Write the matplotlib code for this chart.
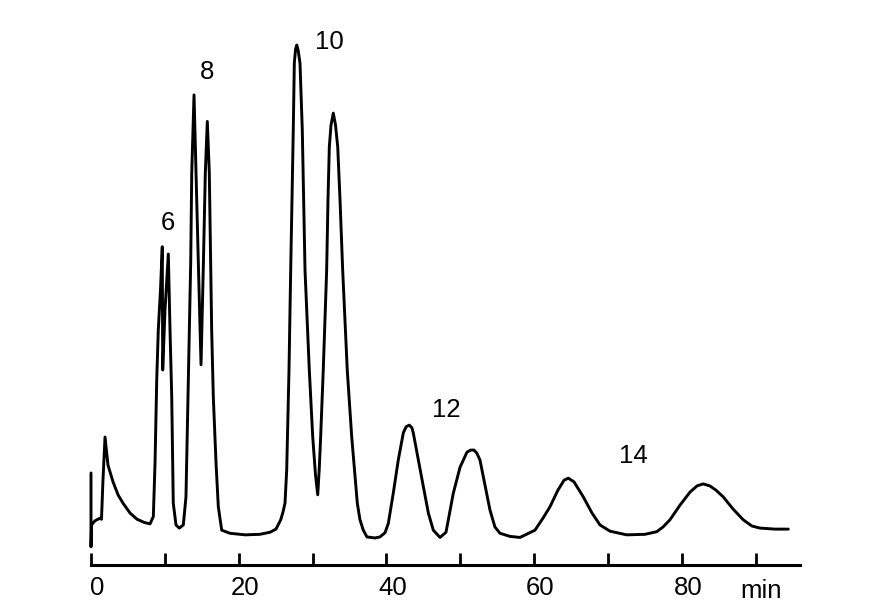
import matplotlib
matplotlib.use("Agg")
import matplotlib.pyplot as plt
from matplotlib.transforms import ScaledTranslation

# Retention time (min) and detector response (relative units)
time_min = [0.0, 0.0, 0.07, 0.54, 1.22, 1.42, 1.62, 1.90, 2.30, 2.98, 3.66, 4.33, 5.28, 6.23,
            7.18, 7.99, 8.44, 8.67, 8.90, 9.11, 9.41, 9.65, 9.71, 10.02, 10.47, 10.70, 10.93,
            11.06, 11.14, 11.51, 11.96, 12.50, 12.86, 13.04, 13.31, 13.50, 13.64, 13.95, 14.22,
            14.56, 14.90, 15.23, 15.48, 15.75, 16.02, 16.18, 16.34, 16.56, 16.93, 17.24, 17.70,
            18.82, 20.85, 22.88, 24.24, 25.05, 25.69, 26.00, 26.27, 26.50, 26.81, 27.04, 27.22,
            27.39, 27.53, 27.70, 27.86, 28.05, 28.30, 28.61, 28.80, 28.98, 29.56, 30.02, 30.40,
            30.70, 30.90, 31.10, 31.45, 31.91, 32.09, 32.27, 32.50, 32.81, 33.11, 33.41, 33.72,
            34.08, 34.70, 35.30, 36.06, 36.42, 36.87, 37.37, 38.45, 39.13, 39.81, 40.26, 40.93,
            41.61, 42.29, 42.67, 43.10, 43.45, 43.64, 44.32, 45.00, 45.68, 46.35, 47.26, 48.07,
            49.06, 49.97, 50.91, 51.40, 51.86, 52.25, 52.67, 53.35, 54.02, 54.70, 55.38, 56.74,
            58.09, 60.12, 61.20, 62.15, 63.23, 64.05, 64.63, 65.40, 66.66, 67.84, 68.92, 70.28,
            72.54, 75.00, 76.60, 77.45, 78.40, 79.75, 81.10, 82.05, 82.90, 83.81, 84.62, 85.61,
            86.92, 88.31, 89.49, 90.58, 92.61, 94.42]
response = [17.7, 3.5, 7.7, 8.5, 9.0, 8.8, 16.3, 24.6, 19.2, 16.0, 13.5, 11.9, 10.0, 8.8,
            8.2, 7.9, 9.3, 19.6, 35.6, 45.2, 52.9, 61.2, 37.5, 49.0, 59.8, 45.2, 32.4,
            19.6, 11.9, 7.7, 7.1, 7.7, 13.1, 26.0, 45.2, 58.1, 75.4, 90.4, 75.4,
            56.7, 38.5, 58.7, 75.4, 85.3, 75.4, 60.6, 45.2, 32.4, 19.6, 11.2, 6.7,
            6.1, 5.8, 5.9, 6.3, 6.9, 8.7, 10.2, 11.9, 18.3, 37.5, 56.7, 70.2,
            83.7, 96.5, 99.2, 100.0, 99.0, 96.5, 83.7, 70.2, 56.7, 37.5, 24.7, 17.3,
            13.5, 18.3, 24.7, 37.5, 56.7, 70.2, 80.4, 84.6, 86.9, 84.6, 80.4, 70.2,
            56.7, 37.5, 24.7, 11.9, 8.7, 6.7, 5.4, 5.2, 5.4, 6.2, 8.0, 13.8,
            20.2, 25.4, 26.6, 26.9, 26.4, 25.4, 20.2, 15.1, 10.0, 6.7, 5.3, 6.3,
            13.8, 18.8, 21.7, 22.1, 22.1, 21.5, 20.2, 15.4, 10.6, 7.3, 6.1, 5.5,
            5.3, 6.7, 9.0, 11.2, 14.4, 16.3, 16.7, 16.0, 13.1, 10.0, 7.7, 6.5,
            5.8, 5.9, 6.4, 7.3, 8.7, 11.5, 14.0, 15.2, 15.6, 15.2, 14.4, 13.1,
            10.8, 8.7, 7.5, 7.1, 6.9, 6.9]

# Peak labels (carbon number) and their positions
peak_labels = ["6", "8", "10", "12", "14"]
peak_label_t = [10.47, 15.75, 32.3, 48.1, 73.5]
peak_label_s = [65.7, 94.9, 100.5, 29.8, 21.0]

tick_values = [0, 10, 20, 30, 40, 50, 60, 70, 80, 90]
tick_labels = ["0", "", "20", "", "40", "", "60", "", "80", ""]
axis_unit = "min"

W, H = 879, 606
fig = plt.figure(figsize=(W / 100, H / 100), dpi=100)
left_px, right_px, top_px, bottom_px = 80, 810, 30, 565
ax = fig.add_axes([left_px / W, 1 - bottom_px / H, (right_px - left_px) / W, (bottom_px - top_px) / H])

px_per_min = 7.385
ax.set_xlim((left_px - 91) / px_per_min, (right_px - 91) / px_per_min)
ax.set_ylim(0, (bottom_px - top_px) / 5.2)

FONT = "Liberation Sans"
FS = 18.5
ax.plot(time_min, response, color="black", lw=2.1, solid_joinstyle="round", solid_capstyle="round")

for lab, t, s in zip(peak_labels, peak_label_t, peak_label_s):
    ax.text(t, s, lab, ha="center", va="center", fontsize=FS, family=FONT)

for sp in ["left", "right", "top"]:
    ax.spines[sp].set_visible(False)
ax.spines["bottom"].set_linewidth(2.2)
ax.spines["bottom"].set_bounds(0, 96)
ax.set_yticks([])
ax.set_xticks(tick_values)
ax.set_xticklabels(tick_labels, fontsize=FS, family=FONT)
ax.tick_params(axis="x", direction="in", length=8.6, width=2.0, pad=8.0)
for lbl in ax.get_xticklabels():
    lbl.set_transform(lbl.get_transform() + ScaledTranslation(6 / 100, 0, fig.dpi_scale_trans))

ax.annotate(axis_unit, xy=(90, 0), xycoords=("data", "axes fraction"),
            xytext=(4, -24), textcoords="offset points", ha="center", va="baseline",
            fontsize=FS, family=FONT)

fig.savefig("out.png", dpi=100, facecolor="white")
